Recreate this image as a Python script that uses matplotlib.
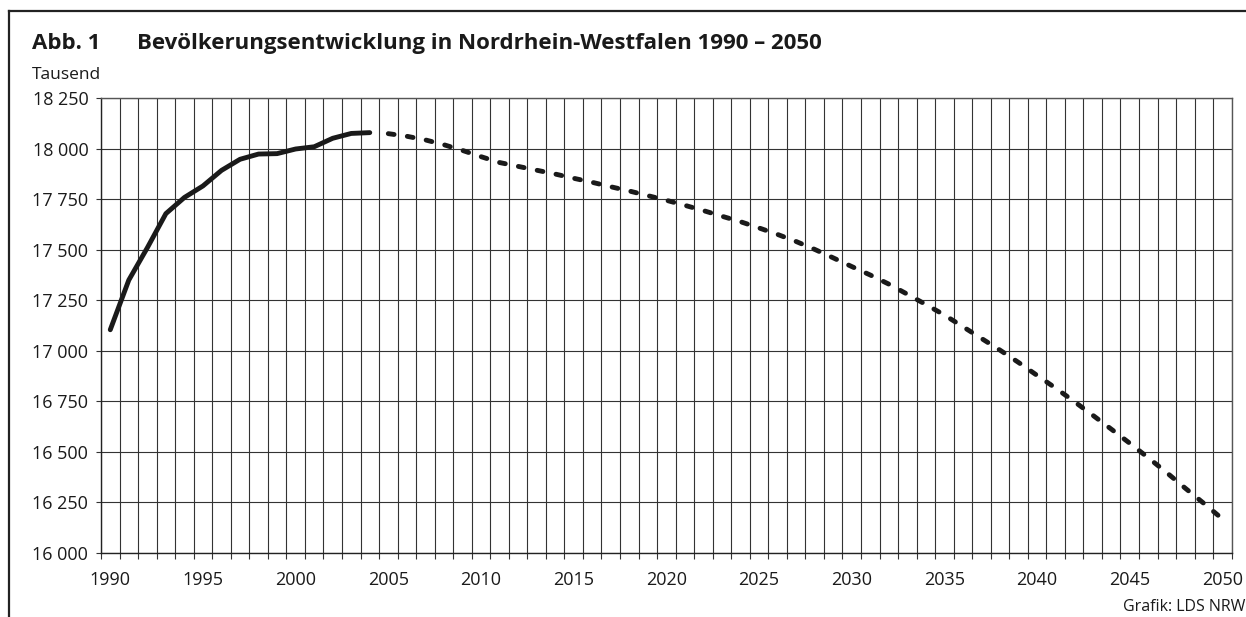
import numpy as np
import matplotlib
matplotlib.use("Agg")
import matplotlib.pyplot as plt
from matplotlib.lines import Line2D

plt.rcParams['font.family'] = ['Open Sans', 'DejaVu Sans']

# Bevoelkerung NRW in Tausend (bis 2004 Ist, ab 2005 Vorausberechnung)
years_actual = list(range(1990, 2005))
pop_actual = [17104, 17350, 17510, 17679, 17759, 17816, 17893, 17948,
              17974, 17976, 17999, 18010, 18052, 18076, 18080]

years_forecast = list(range(2005, 2051))
pop_forecast = [18075, 18062, 18044, 18020, 17992, 17961, 17932, 17913,
                17894, 17875, 17854, 17834, 17812, 17791, 17768, 17745,
                17720, 17694, 17666, 17639, 17608, 17576, 17541, 17502,
                17460, 17417, 17375, 17330, 17280, 17229, 17177, 17119,
                17061, 17003, 16942, 16878, 16815, 16749, 16681, 16612,
                16542, 16470, 16396, 16319, 16244, 16167]

y_ticks = list(range(16000, 18251, 250))
x_label_years = list(range(1990, 2051, 5))

W, H = 1246, 617
INK = '#1a1a1a'

fig = plt.figure(figsize=(W / 100, H / 100), dpi=100)
ax = fig.add_axes([101 / W, (H - 552.7) / H, (1231.7 - 101) / W, (552.7 - 98.3) / H])

# grid
for b in np.arange(1989.5, 2051, 1.0):
    ax.axvline(b, color='#333333', lw=0.8, zorder=1)
for v in y_ticks:
    ax.axhline(v, color='#333333', lw=0.8, zorder=1)

ax.plot(years_actual, pop_actual, color=INK, lw=3.5,
        solid_capstyle='round', solid_joinstyle='round', zorder=3)
ax.plot(years_forecast, pop_forecast, color=INK, lw=3.5,
        linestyle=(0, (1.2, 2.75)), dash_capstyle='round', zorder=3)

ax.set_xlim(1989.5, 2050.5)
ax.set_ylim(16000, 18250)

ax.set_yticks(y_ticks)
ax.set_yticklabels([f"{v:,}".replace(",", " ") for v in y_ticks])
ax.set_xticks(x_label_years)
ax.set_xticklabels([str(y) for y in x_label_years])
ax.set_xticks(np.arange(1989.5, 2051, 1.0), minor=True)

ax.tick_params(axis='x', which='major', length=0, pad=13, labelsize=13, labelcolor=INK)
ax.tick_params(axis='x', which='minor', length=4.3, width=0.8, color='#333333')
ax.tick_params(axis='y', which='major', length=3.6, width=0.8, color='#333333',
               pad=5.5, labelsize=13, labelcolor=INK)

for side in ['top', 'right']:
    ax.spines[side].set_color('#555555')
    ax.spines[side].set_linewidth(1.0)
for side in ['left', 'bottom']:
    ax.spines[side].set_color('#222222')
    ax.spines[side].set_linewidth(1.0)

# frame lines top and left
fig.add_artist(Line2D([9 / W, 1.0], [1 - 11 / H, 1 - 11 / H], color='#222222', lw=1.6,
                      transform=fig.transFigure))
fig.add_artist(Line2D([9 / W, 9 / W], [0.0, 1 - 11 / H], color='#222222', lw=1.6,
                      transform=fig.transFigure))

fig.text(32 / W, 1 - 49 / H, "Abb. 1", fontsize=16, fontweight='bold', color=INK, va='baseline')
fig.text(137 / W, 1 - 49 / H, "Bevölkerungsentwicklung in Nordrhein-Westfalen 1990 – 2050",
         fontsize=16, fontweight='bold', color=INK, va='baseline')
fig.text(32 / W, 1 - 79.3 / H, "Tausend", fontsize=12.5, color=INK, va='baseline')
fig.text(1245 / W, 1 - 611 / H, "Grafik: LDS NRW", fontsize=11.5, color=INK,
         va='baseline', ha='right')

fig.savefig("out.png", dpi=100)
